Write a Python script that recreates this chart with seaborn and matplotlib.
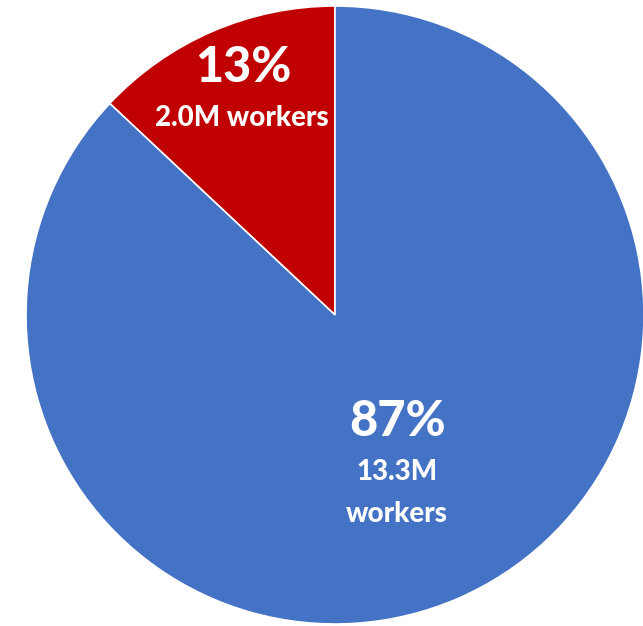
import matplotlib
matplotlib.use("Agg")
import matplotlib.pyplot as plt
import seaborn as sns

sns.set_theme(style="white")
plt.rcParams['font.family'] = ['Lato', 'DejaVu Sans']

categories = ["Other workers", "Workers"]
shares = [13, 87]
pct_labels = ["13%", "87%"]
count_labels = ["2.0M workers", "13.3M\nworkers"]
colors = ["#C00000", "#4472C4"]

fig = plt.figure(figsize=(6.43, 6.26), dpi=100)
ax = fig.add_axes([0, 0, 1, 1])
ax.pie(shares, colors=colors, startangle=90, counterclock=True,
       wedgeprops=dict(edgecolor="white", linewidth=1.2), radius=1.0)
ax.set_xlim(-335/309, (643-335)/309)
ax.set_ylim(-311/309, 315/309)
ax.set_aspect('equal')
ax.axis('off')

def t(x, y, s, size):
    ax.text(x, y, s, color="white", fontsize=size, fontweight="black",
            ha="center", va="center")

t(-0.298, 0.80, pct_labels[0], 35)
t(-0.300, 0.638, count_labels[0], 20)
t(0.201, -0.346, pct_labels[1], 35)
for i, line in enumerate(count_labels[1].split("\n")):
    t(0.201, -0.508 - 0.136 * i, line, 20)

fig.savefig("out.png", dpi=100)
